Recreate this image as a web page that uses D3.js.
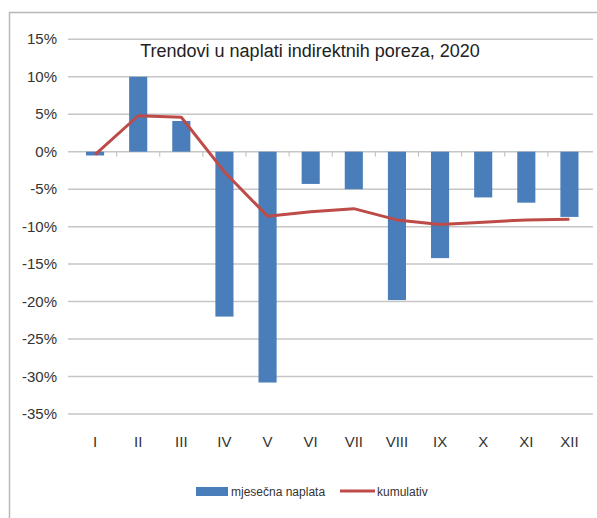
<!DOCTYPE html>
<html><head><meta charset="utf-8">
<script src="https://cdn.jsdelivr.net/npm/d3@7"></script>
<style>body{margin:0;background:#fff}svg{display:block}</style>
</head><body>
<script>
const months = ["I","II","III","IV","V","VI","VII","VIII","IX","X","XI","XII"];
const monthly = [-0.5, 10.0, 4.1, -22.0, -30.8, -4.3, -5.0, -19.8, -14.2, -6.1, -6.8, -8.7];
const cumulative = [-0.4, 4.8, 4.6, -2.7, -8.6, -8.0, -7.6, -9.1, -9.7, -9.4, -9.1, -9.0];
const yTicks = [15, 10, 5, 0, -5, -10, -15, -20, -25, -30, -35];
const title = "Trendovi u naplati indirektnih poreza, 2020";
const legendLabels = ["mjesečna naplata", "kumulativ"];

const W = 597, H = 518;
const font = "'Liberation Sans Narrow','Arial Narrow','Liberation Sans',sans-serif";
const svg = d3.select("body").append("svg").attr("width", W).attr("height", H);

// frame
svg.append("rect").attr("x", 9.5).attr("y", 12.5).attr("width", 600).attr("height", 520)
  .attr("fill", "#fff").attr("stroke", "#b8b8b8").attr("stroke-width", 1.5);

const x = d3.scaleBand().domain(months).range([73.5, 591]).paddingInner(0.58).paddingOuter(0.29);
const y = d3.scaleLinear().domain([-35, 15]).range([414, 39.3]);

// gridlines
svg.append("g").selectAll("line").data(yTicks).join("line")
  .attr("x1", 68).attr("x2", 593).attr("y1", d => y(d)).attr("y2", d => y(d))
  .attr("stroke", "#c6c6c6").attr("stroke-width", 1.5);

// y labels
svg.append("g").selectAll("text").data(yTicks).join("text")
  .attr("x", 57).attr("y", d => y(d) + 5).attr("text-anchor", "end")
  .attr("font-family", font).attr("font-size", 15).attr("fill", "#333")
  .text(d => d + "%");

// bars
svg.append("g").selectAll("rect").data(monthly).join("rect")
  .attr("x", (d, i) => x(months[i]))
  .attr("width", x.bandwidth())
  .attr("y", d => y(Math.max(0, d)))
  .attr("height", d => Math.abs(y(d) - y(0)))
  .attr("fill", "#4a7ebb");

// zero axis ticks (category boundaries)
const step = x.step();
const bounds = d3.range(months.length + 1).map(i => x(months[0]) - x.paddingOuter() * step + i * step - (x.paddingInner() * step) / 2 + (x.paddingInner()*step)/2);
svg.append("g").selectAll("line").data(months.slice(1)).join("line")
  .attr("x1", d => x(d) + x.bandwidth() / 2 - step / 2)
  .attr("x2", d => x(d) + x.bandwidth() / 2 - step / 2)
  .attr("y1", y(0)).attr("y2", y(0) + 5)
  .attr("stroke", "#bdbdbd").attr("stroke-width", 1);

// line
const line = d3.line().x((d, i) => x(months[i]) + x.bandwidth() / 2).y(d => y(d));
svg.append("path").datum(cumulative).attr("d", line)
  .attr("fill", "none").attr("stroke", "#be4b48").attr("stroke-width", 3)
  .attr("stroke-linejoin", "round");

// x labels
svg.append("g").selectAll("text").data(months).join("text")
  .attr("x", d => x(d) + x.bandwidth() / 2).attr("y", 447).attr("text-anchor", "middle")
  .attr("font-family", font).attr("font-size", 15).attr("fill", "#333")
  .text(d => d);

// title
svg.append("text").attr("x", 310).attr("y", 57).attr("text-anchor", "middle")
  .attr("font-family", font).attr("font-size", 18).attr("fill", "#222").text(title);

// legend
const lg = svg.append("g").attr("font-family", font).attr("font-size", 12).attr("fill", "#333");
lg.append("rect").attr("x", 196).attr("y", 487).attr("width", 32).attr("height", 9).attr("fill", "#4a7ebb");
lg.append("text").attr("x", 231).attr("y", 496).text(legendLabels[0]);
lg.append("line").attr("x1", 340).attr("x2", 375).attr("y1", 491).attr("y2", 491)
  .attr("stroke", "#be4b48").attr("stroke-width", 3);
lg.append("text").attr("x", 377).attr("y", 496).text(legendLabels[1]);
</script>
</body></html>
